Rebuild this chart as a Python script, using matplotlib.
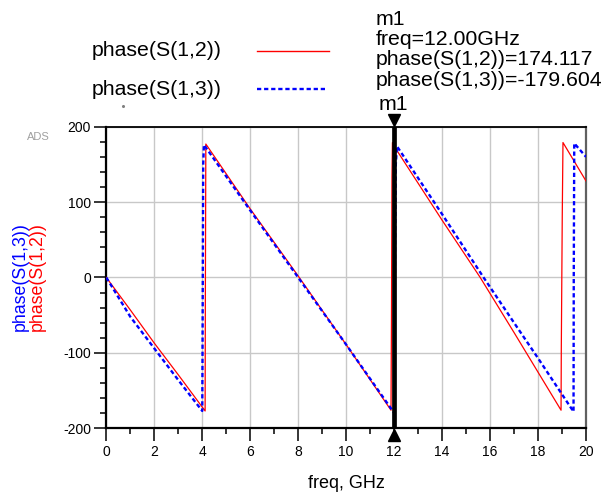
import matplotlib
matplotlib.use('Agg')
import matplotlib.pyplot as plt
from matplotlib.lines import Line2D
from matplotlib.ticker import MultipleLocator

plt.rcParams['font.family'] = ['Liberation Sans', 'DejaVu Sans']
plt.rcParams['axes.unicode_minus'] = False

# phase(S(1,2)) (freq in GHz, phase in deg)
f12 = [0, 1, 2, 3, 4.12, 4.13, 4.15, 6, 8, 10, 11.87, 11.89, 11.91, 11.93, 12.0,
       14, 15.59, 17, 18.96, 18.97, 19.01, 19.04, 20]
p12 = [0, -43, -87, -129, -177, -23, 177, 91, 2, -89, -176, -52, 134, 179, 174.117,
       76, 0, -73, -176, -96, 81, 179, 128]

# phase(S(1,3))
f13 = [0, 1, 2, 3, 4.0, 4.01, 4.04, 4.07, 6, 8, 10, 12.0, 12.04, 12.07, 12.12,
       14, 15.73, 17, 18, 19.48, 19.49, 19.51, 20]
p13 = [0, -52, -94, -136, -177, -113, 150, 176, 89, 0, -89, -179.604, 37, 150, 174,
       84, 0, -60, -107, -178, 4, 178, 160]

marker_freq = 12.0
marker_s12 = 174.117
marker_s13 = -179.604

W, H = 604, 494
fig = plt.figure(figsize=(W/100, H/100), dpi=100)

def fx(px):
    return px / W

def fy(py):
    return 1 - py / H

ax = fig.add_axes([fx(106.3), fy(428.3), fx(586) - fx(106.3), fy(126.7) - fy(428.3)])

ax.plot(f12, p12, color='#ff0000', lw=0.9, zorder=3)
ax.plot(f13, p13, color='#0000ff', lw=1.7, linestyle=(0, (1.8, 1.2)), zorder=3)

# marker m1
ax.axvline(marker_freq, color='black', lw=3.4, zorder=4)
ax.plot([marker_freq], [209], marker='v', color='black', markersize=9, clip_on=False, zorder=5)
ax.plot([marker_freq], [-209], marker='^', color='black', markersize=9, clip_on=False, zorder=5)

ax.set_xlim(0, 20)
ax.set_ylim(-200, 200)
ax.xaxis.set_major_locator(MultipleLocator(2))
ax.xaxis.set_minor_locator(MultipleLocator(1))
ax.yaxis.set_major_locator(MultipleLocator(100))
ax.yaxis.set_minor_locator(MultipleLocator(20))
ax.tick_params(which='major', length=9, width=1.1, labelsize=10, pad=2)
ax.tick_params(which='minor', length=4.5, width=1.1)
ax.tick_params(axis='x', which='major', pad=3)
ax.grid(True, which='major', color='#c8c8c8', lw=1.0, zorder=0)

for side in ['left', 'bottom', 'top']:
    ax.spines[side].set_color('black')
ax.spines['left'].set_linewidth(1.6)
ax.spines['bottom'].set_linewidth(1.6)
ax.spines['top'].set_linewidth(1.3)
ax.spines['right'].set_color('#606060')
ax.spines['right'].set_linewidth(1.6)

# axis labels
fig.text(fx(346), fy(483), 'freq, GHz', fontsize=13, ha='center', va='center')
fig.text(fx(20), fy(277), 'phase(S(1,3))', fontsize=12.8, color='#0000ff',
         rotation=90, ha='center', va='center')
fig.text(fx(37), fy(277), 'phase(S(1,2))', fontsize=12.8, color='#ff0000',
         rotation=90, ha='center', va='center')
fig.text(fx(27), fy(137), 'ADS', fontsize=8, color='#a0a0a0', ha='left', va='center')

# legend
fig.text(fx(91.7), fy(50), 'phase(S(1,2))', fontsize=15.3, ha='left', va='center')
fig.text(fx(91.7), fy(89.3), 'phase(S(1,3))', fontsize=15.3, ha='left', va='center')
fig.add_artist(Line2D([fx(256.7), fx(329)], [fy(50.7), fy(50.7)], color='#ff0000', lw=1.0))
fig.add_artist(Line2D([fx(256.7), fx(326.7)], [fy(89.3), fy(89.3)], color='#0000ff',
                      lw=1.7, linestyle=(0, (1.8, 1.2))))
fig.add_artist(Line2D([fx(123.3)], [fy(106)], marker='o', markersize=1.2, color='#808080'))

# marker readout
lines = ['m1',
         'freq=%.2fGHz' % marker_freq,
         'phase(S(1,2))=%.3f' % marker_s12,
         'phase(S(1,3))=%.3f' % marker_s13]
for i, s in enumerate(lines):
    fig.text(fx(375.7), fy(19.3 + 20.3 * i), s, fontsize=15.3, ha='left', va='center')
fig.text(fx(393), fy(104), 'm1', fontsize=15.3, ha='center', va='center')

fig.savefig('out.png', dpi=100)
